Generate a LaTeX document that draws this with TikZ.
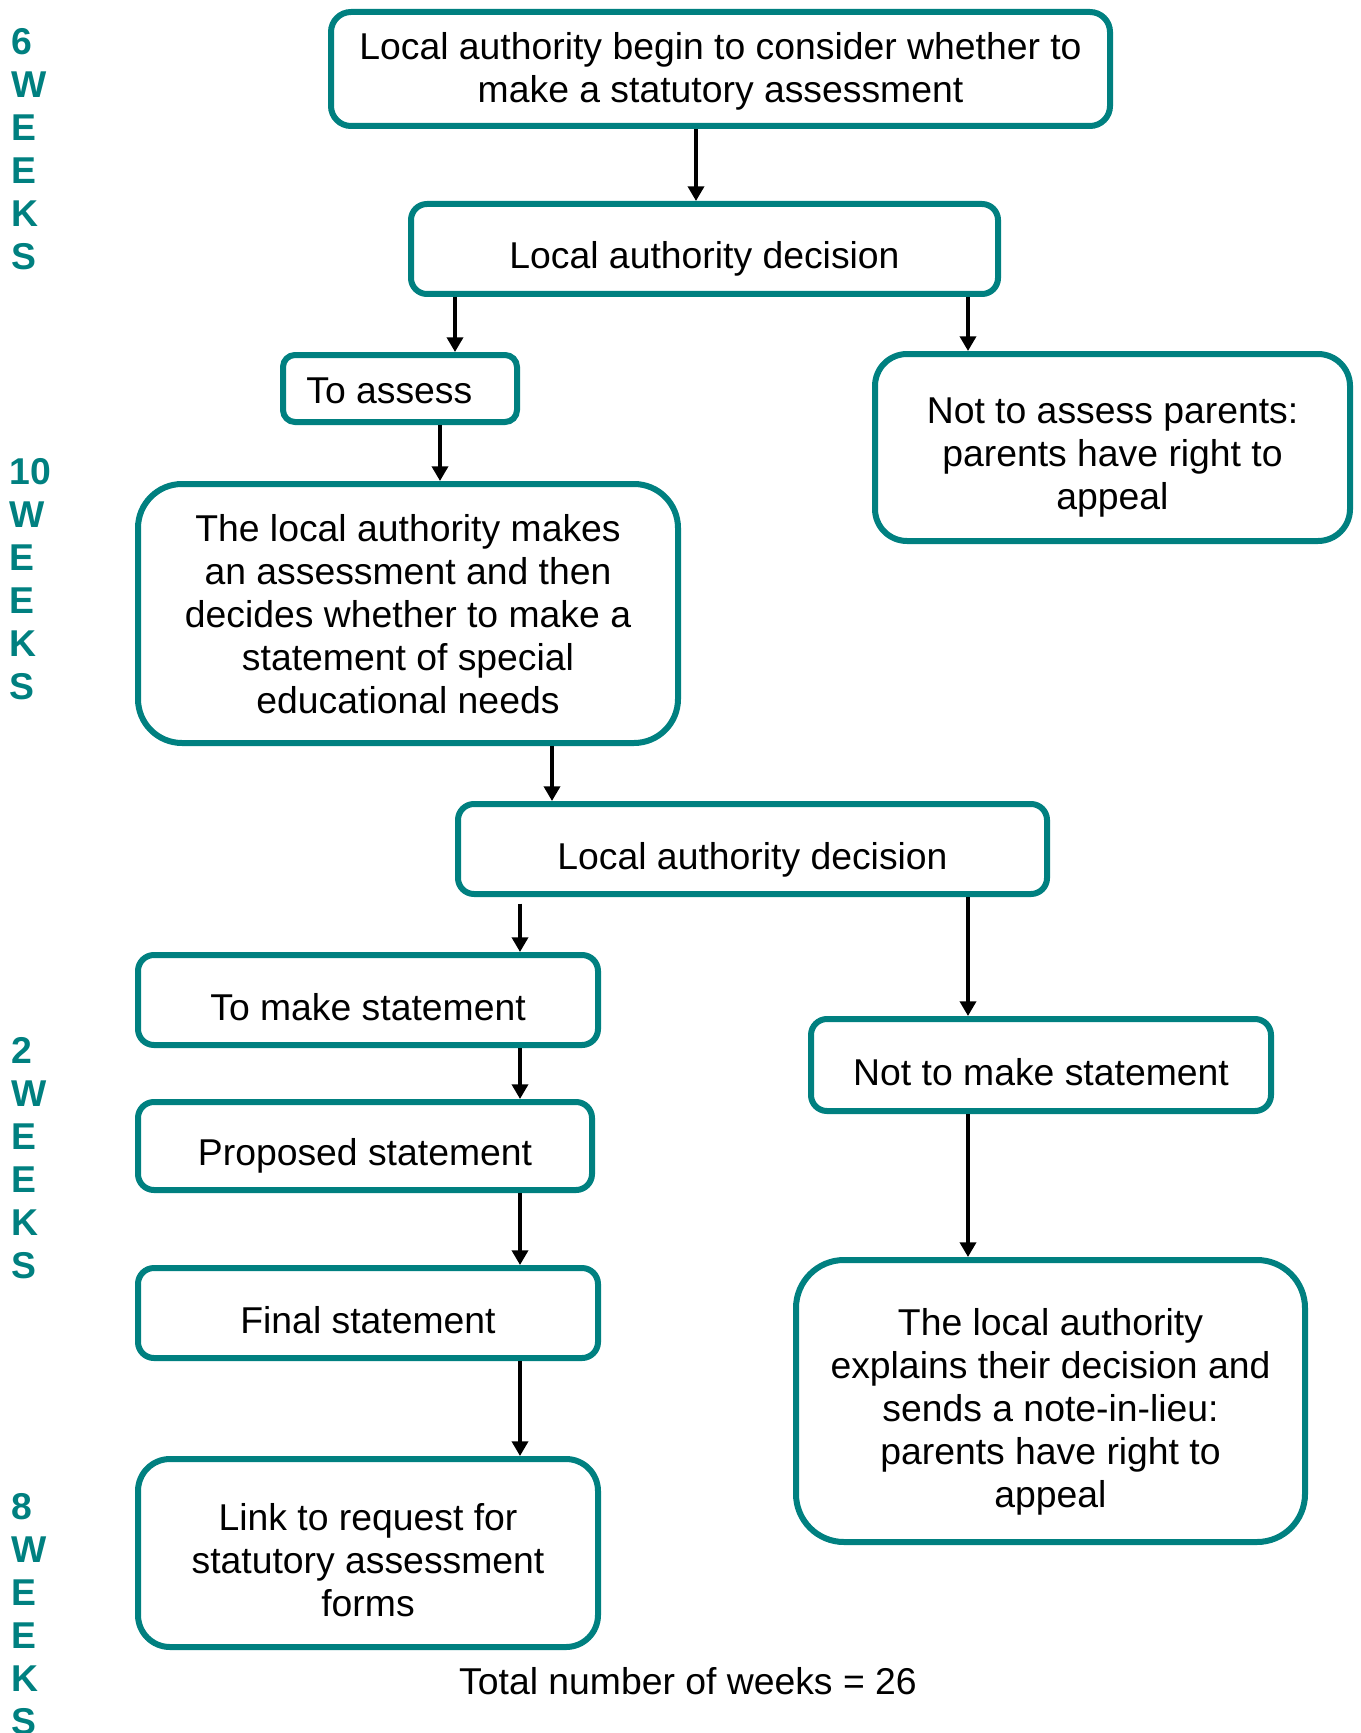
\documentclass[tikz,border=0pt]{standalone}
\usepackage{fontspec}
\setmainfont{Liberation Sans}
\usetikzlibrary{arrows.meta}
\definecolor{tealc}{RGB}{0,128,128}
\begin{document}
\begin{tikzpicture}[x=0.75pt,y=-0.75pt,
  box/.style n args={3}{draw=tealc, line width=4.5pt, rounded corners=#3,
    minimum width=#1*0.75pt, minimum height=#2*0.75pt, inner sep=0pt},
  txt/.style={inner sep=0pt, align=center, font=\fontsize{28}{32.25}\selectfont, text=black},
  wk/.style={anchor=north west, inner sep=0pt, align=left, text=tealc,
    font=\bfseries\fontsize{28}{32.25}\selectfont},
  arr/.style={-{Triangle[width=12pt,length=11pt]}, line width=2.6pt, black}]
\useasboundingbox (0,0) rectangle (1360,1733);

% boxes
\node[box={779}{114}{15pt}] (box1) at (720.5,69) {};
\node[box={587}{90}{12pt}] (dec1) at (704.5,249) {};
\node[box={234}{67}{9pt}] (toassess) at (400,388.5) {};
\node[box={475}{187}{24pt}] (notassess) at (1112.5,447.5) {};
\node[box={540}{259}{33pt}] (makes) at (408,613.5) {};
\node[box={589}{90}{12pt}] (dec2) at (752.5,849) {};
\node[box={460}{90}{12pt}] (tomake) at (368,1000) {};
\node[box={460}{92}{12pt}] (notmake) at (1041,1065) {};
\node[box={454}{88}{12pt}] (proposed) at (365,1146) {};
\node[box={460}{90}{12pt}] (final) at (368,1313) {};
\node[box={460}{188}{24pt}] (link) at (368,1553) {};
\node[box={509}{282}{36pt}] (laexpl) at (1050.5,1401) {};

% box texts
\node[txt] (box1t) at ([yshift=-2pt]box1.center) {Local authority begin to consider whether to\\make a statutory assessment};
\node[txt] (dec1t) at ([yshift=-7.5pt]dec1.center) {Local authority decision};
\node[txt] (toassesst) at ([xshift=-8pt,yshift=-1.5pt]toassess.center) {To assess};
\node[txt] (notassesst) at ([yshift=-7.5pt]notassess.center) {Not to assess parents:\\parents have right to\\appeal};
\node[txt] (makest) at ([yshift=-0.5pt]makes.center) {The local authority makes\\an assessment and then\\decides whether to make a\\statement of special\\educational needs};
\node[txt] (dec2t) at ([yshift=-8pt]dec2.center) {Local authority decision};
\node[txt] (tomaket) at ([yshift=-5pt]tomake.center) {To make statement};
\node[txt] (notmaket) at ([yshift=-5pt]notmake.center) {Not to make statement};
\node[txt] (proposedt) at ([yshift=-7.5pt]proposed.center) {Proposed statement};
\node[txt] (finalt) at ([yshift=-5pt]final.center) {Final statement};
\node[txt] (linkt) at ([yshift=-5pt]link.center) {Link to request for\\statutory assessment\\forms};
\node[txt] (laexplt) at ([yshift=-8pt]laexpl.center) {The local authority\\explains their decision and\\sends a note-in-lieu:\\parents have right to\\appeal};

\node[txt] (total) at (688,1681) {Total number of weeks = 26};

% week labels
\node[wk] (w6) at (11,28) {6\\W\\E\\E\\K\\S};
\node[wk] (w10) at (9,458) {10\\W\\E\\E\\K\\S};
\node[wk] (w2) at (11,1037) {2\\W\\E\\E\\K\\S};
\node[wk] (w8) at (11,1493) {8\\W\\E\\E\\K\\S};

% x positions of connectors
\coordinate (xa) at (696,0);
\coordinate (xb) at (455,0);
\coordinate (xc) at (968,0);
\coordinate (xd) at (440,0);
\coordinate (xe) at (552,0);
\coordinate (xf) at (520,0);

\draw[arr] (box1.south -| xa) -- (dec1.north -| xa);
\draw[arr] (dec1.south -| xb) -- (toassess.north -| xb);
\draw[arr] (dec1.south -| xc) -- (notassess.north -| xc);
\draw[arr] (toassess.south -| xd) -- (makes.north -| xd);
\draw[arr] (makes.south -| xe) -- (dec2.north -| xe);
\draw[arr, shorten <=5pt] (dec2.south -| xf) -- (tomake.north -| xf);
\draw[arr] (dec2.south -| xc) -- (notmake.north -| xc);
\draw[arr] (tomake.south -| xf) -- (proposed.north -| xf);
\draw[arr] (proposed.south -| xf) -- (final.north -| xf);
\draw[arr] (final.south -| xf) -- (link.north -| xf);
\draw[arr] (notmake.south -| xc) -- (laexpl.north -| xc);
\end{tikzpicture}
\end{document}
